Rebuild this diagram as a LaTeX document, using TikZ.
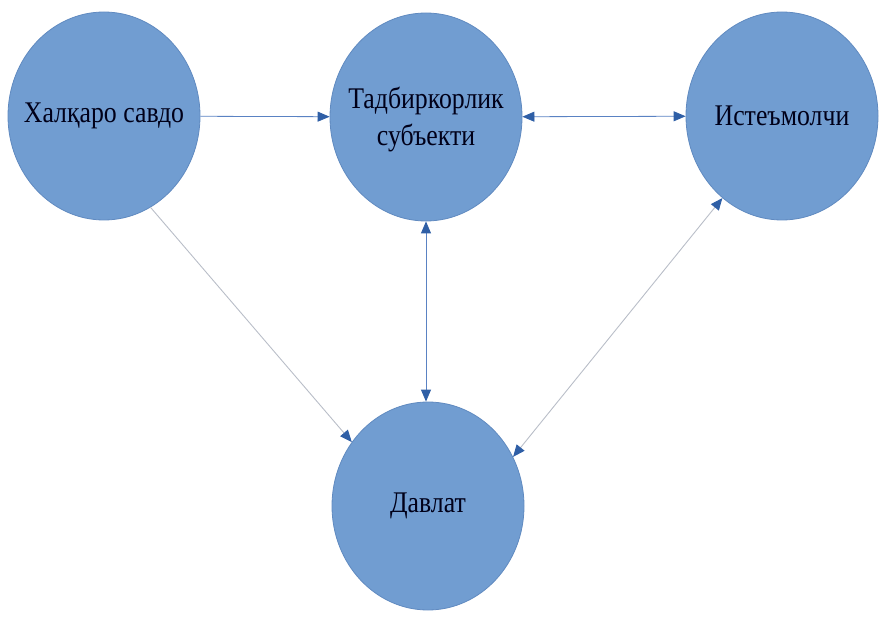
\documentclass[tikz,border=0pt]{standalone}
\usepackage{fontspec}
\setmainfont{Liberation Serif}
\newfontfamily\narrowserif[FakeStretch=0.86]{Liberation Serif}
\usetikzlibrary{arrows.meta,shapes.geometric}
\definecolor{circfill}{RGB}{113,157,209}
\definecolor{circline}{RGB}{96,138,192}
\definecolor{tipblue}{RGB}{47,95,166}
\definecolor{linkblue}{RGB}{90,130,195}
\definecolor{linkgray}{RGB}{185,190,200}
\tikzset{
  circ/.style={ellipse, fill=circfill, draw=circline, line width=0.8pt,
    minimum width=192pt, minimum height=208pt, inner sep=0pt},
  txt/.style={align=center, font=\narrowserif\fontsize{30}{37}\selectfont, text=black!90!blue},
  Tb/.tip={Triangle[length=12pt, width=10pt, color=tipblue, fill=tipblue]},
  linkb/.style={draw=linkblue, line width=0.8pt},
  linkg/.style={draw=linkgray, line width=0.9pt},
}
\begin{document}
\begin{tikzpicture}[x=1pt,y=1pt]
\useasboundingbox (0,0) rectangle (880,622);
\node[circ, label={[txt]center:Халқаро савдо}] (H) at (104,506) {};
\node[circ, label={[txt, yshift=-3pt]center:Тадбиркорлик\\субъекти}] (T) at (426,505) {};
\node[circ, label={[txt]center:Истеъмолчи}] (I) at (782,506) {};
\node[circ, label={[txt]center:Давлат}] (D) at (428,116) {};
\coordinate (Dtop) at (T.south |- D.north);
\draw[linkb, -Tb] (H) -- (T);
\draw[linkb, Tb-Tb] (T) -- (I);
\draw[linkb, Tb-Tb] (T.south) -- (Dtop);
\draw[linkg, -Tb] (H.-63) -- (D.140);
\draw[linkg, Tb-Tb] (I.234) -- (D.30);
\end{tikzpicture}
\end{document}
